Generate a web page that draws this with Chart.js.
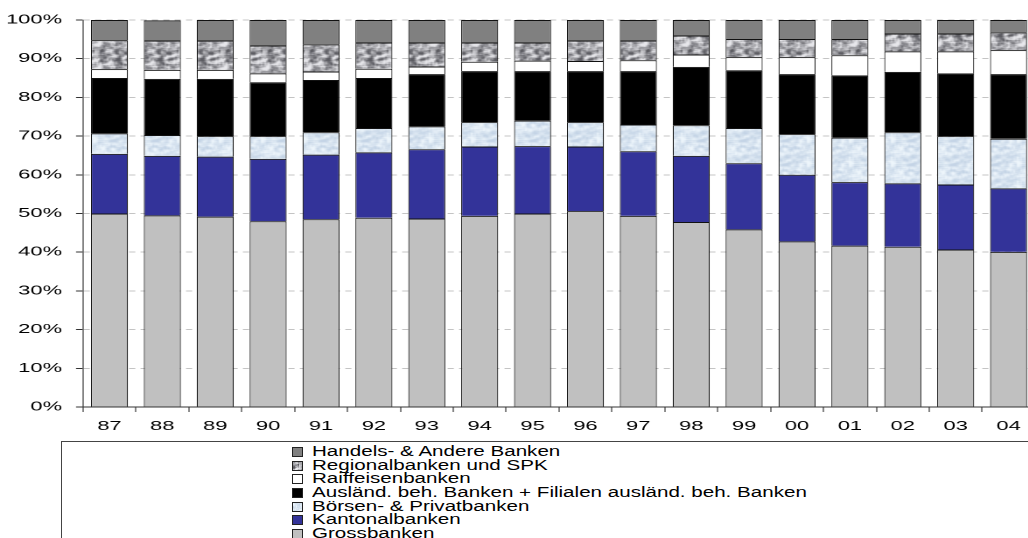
<!DOCTYPE html>
<html>
<head>
<meta charset="utf-8">
<script src="https://cdn.jsdelivr.net/npm/chart.js@4.4.1/dist/chart.umd.min.js"></script>
<style>
  html, body { margin: 0; padding: 0; background: #fff; }
  body { width: 1028px; height: 538px; overflow: hidden; position: relative; font-family: 'Liberation Sans', Arial, sans-serif; }
  #stage { position: absolute; left: 0; top: 0; width: 595px; height: 440px; transform: scaleX(1.75); transform-origin: 0 0; }
  #legendBox { position: absolute; left: 61px; top: 441px; width: 1000px; height: 120px; border-left: 1px solid #444; border-top: 1px solid #444; }
  #legend { position: absolute; left: 292px; top: 445px; }
  .row { height: 13.7px; line-height: 13.7px; display: flex; align-items: center; white-space: nowrap; }
  .sw { width: 9px; height: 8px; border: 1px solid #222; margin-right: 9px; background-size: 24px 24px; flex: none; }
  .tx { display: inline-block; font-size: 14px; color: #000; transform: scaleX(1.47); transform-origin: 0 50%; }
</style>
</head>
<body>
<div id="stage"><canvas id="c" width="595" height="440"></canvas></div>
<div id="legendBox"></div>
<div id="legend"></div>
<script>
// Years (category labels)
const years = ['87','88','89','90','91','92','93','94','95','96','97','98','99','00','01','02','03','04'];

// Market shares in percent, stacked from the bottom up
const grossbanken    = [50.0, 49.5, 49.2, 48.0, 48.5, 48.9, 48.7, 49.4, 50.0, 50.6, 49.4, 47.8, 45.9, 42.8, 41.7, 41.4, 40.7, 40.1];
const kantonalbanken = [15.4, 15.4, 15.5, 16.1, 16.7, 16.9, 17.9, 17.9, 17.4, 16.7, 16.7, 17.1, 17.1, 17.2, 16.4, 16.4, 16.8, 16.4];
const boersenPrivat  = [ 5.3,  5.4,  5.3,  5.9,  5.8,  6.3,  5.9,  6.3,  6.6,  6.3,  6.9,  7.9,  9.1, 10.5, 11.5, 13.2, 12.5, 12.8];
const auslaendisch   = [14.3, 14.5, 14.8, 13.9, 13.5, 12.9, 13.5, 13.2, 12.8, 13.2, 13.8, 15.1, 14.9, 15.5, 16.1, 15.6, 16.2, 16.7];
const raiffeisen     = [ 2.3,  2.3,  2.3,  2.3,  2.2,  2.4,  2.0,  2.4,  2.7,  2.6,  2.8,  3.2,  3.4,  4.4,  5.2,  5.3,  5.7,  6.2];
const regionalSPK    = [ 7.5,  7.6,  7.6,  7.2,  7.0,  6.8,  6.2,  5.0,  4.7,  5.3,  5.1,  4.9,  4.7,  4.7,  4.2,  4.6,  4.6,  4.6];
const handelsAndere  = [ 5.2,  5.2,  5.3,  6.6,  6.3,  5.8,  5.8,  5.8,  5.8,  5.3,  5.3,  4.0,  4.9,  4.9,  4.9,  3.5,  3.5,  3.2];

// Y axis ticks
const yTicks = [0, 10, 20, 30, 40, 50, 60, 70, 80, 90, 100];

// Small mottled textures for the granite / marbled fills
function hash(x, y, s) {
  let h = Math.imul(x + 1, 374761393) ^ Math.imul(y + 1, 668265263) ^ Math.imul(s, 2246822519);
  h = Math.imul(h ^ (h >>> 13), 1274126177);
  h ^= h >>> 16;
  return (h >>> 0) / 4294967296;
}
function texture(dark, light, seed, contrast) {
  const N = 24;
  const cv = document.createElement('canvas');
  cv.width = cv.height = N;
  const g = cv.getContext('2d');
  const img = g.createImageData(N, N);
  const raw = [];
  for (let y = 0; y < N; y++) for (let x = 0; x < N; x++) raw[y * N + x] = hash(x, y, seed);
  for (let y = 0; y < N; y++) {
    for (let x = 0; x < N; x++) {
      let sum = 0;
      for (let dy = -1; dy <= 1; dy++) for (let dx = -1; dx <= 1; dx++) {
        sum += raw[((y + dy + N) % N) * N + ((x + dx + N) % N)];
      }
      let t = 0.5 + (sum / 9 - 0.5) * contrast;
      t = Math.max(0, Math.min(1, t));
      const i = (y * N + x) * 4;
      for (let k = 0; k < 3; k++) img.data[i + k] = Math.round(dark[k] + (light[k] - dark[k]) * t);
      img.data[i + 3] = 255;
    }
  }
  g.putImageData(img, 0, 0);
  return cv;
}
const graniteTile = texture([90, 90, 96], [232, 232, 236], 7, 3.2);
const marbleTile  = texture([196, 212, 230], [238, 246, 252], 13, 2.6);
const ctx = document.getElementById('c').getContext('2d');
const granite = ctx.createPattern(graniteTile, 'repeat');
const marble  = ctx.createPattern(marbleTile, 'repeat');

const series = [
  { label: 'Grossbanken', data: grossbanken, fill: '#c0c0c0', swatch: '#c0c0c0' },
  { label: 'Kantonalbanken', data: kantonalbanken, fill: '#333399', swatch: '#333399' },
  { label: 'Börsen- & Privatbanken', data: boersenPrivat, fill: marble, swatch: 'url(' + marbleTile.toDataURL() + ')' },
  { label: 'Ausländ. beh. Banken + Filialen ausländ. beh. Banken', data: auslaendisch, fill: '#000000', swatch: '#000000' },
  { label: 'Raiffeisenbanken', data: raiffeisen, fill: '#ffffff', swatch: '#ffffff' },
  { label: 'Regionalbanken und SPK', data: regionalSPK, fill: granite, swatch: 'url(' + graniteTile.toDataURL() + ')' },
  { label: 'Handels- & Andere Banken', data: handelsAndere, fill: '#808080', swatch: '#808080' }
];

const font = { family: "'Liberation Sans', Arial, sans-serif", size: 12.5 };

new Chart(ctx, {
  type: 'bar',
  data: {
    labels: years,
    datasets: series.map(s => ({
      label: s.label,
      data: s.data,
      backgroundColor: s.fill,
      borderColor: '#111',
      borderWidth: { top: 1, bottom: 1, left: 0.6, right: 0.6 },
      barPercentage: 0.7,
      categoryPercentage: 1.0,
      clip: false
    }))
  },
  options: {
    responsive: false,
    animation: false,
    devicePixelRatio: 2,
    layout: { padding: { top: 20, right: 3.57, bottom: 0, left: 0 } },
    plugins: { legend: { display: false }, tooltip: { enabled: false } },
    scales: {
      x: {
        stacked: true,
        grid: { offset: true, drawOnChartArea: false, drawTicks: true, tickLength: 5, tickColor: '#333', tickWidth: 0.6 },
        border: { display: true, color: '#333', width: 1 },
        ticks: { font: font, color: '#000', padding: 7, maxRotation: 0, autoSkip: false },
        afterFit: s => { s.height = 33; }
      },
      y: {
        stacked: true,
        min: 0,
        max: 100,
        afterBuildTicks: s => { s.ticks = yTicks.map(v => ({ value: v })); },
        grid: { color: '#c4c4c4', lineWidth: 1, drawTicks: true, tickLength: 4, tickColor: '#333', tickWidth: 1, tickBorderDash: [] },
        border: { display: true, color: '#333', width: 0.6, dash: [3.5, 3] },
        ticks: { font: font, color: '#000', padding: 8, callback: v => v + '%' },
        afterFit: s => { s.width = 47.43; }
      }
    }
  }
});

// Legend, topmost series first
const legend = document.getElementById('legend');
series.slice().reverse().forEach(s => {
  const row = document.createElement('div');
  row.className = 'row';
  const sw = document.createElement('span');
  sw.className = 'sw';
  sw.style.background = s.swatch;
  sw.style.backgroundSize = '24px 24px';
  const tx = document.createElement('span');
  tx.className = 'tx';
  tx.textContent = s.label;
  row.appendChild(sw);
  row.appendChild(tx);
  legend.appendChild(row);
});
</script>
</body>
</html>
